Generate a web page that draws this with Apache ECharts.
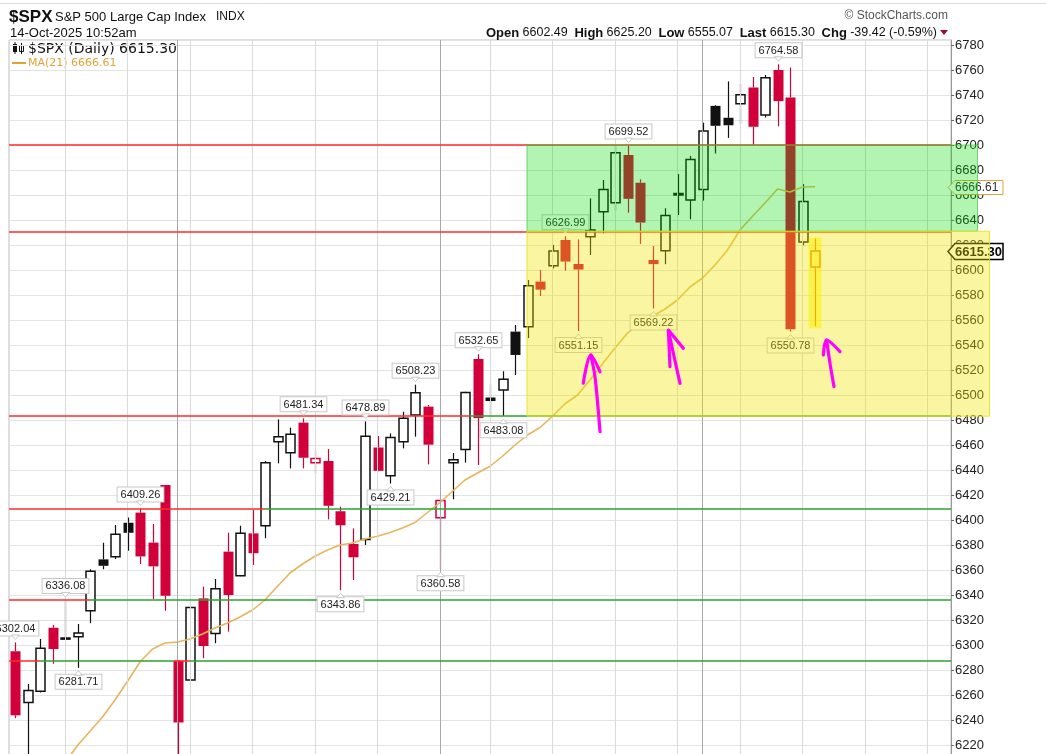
<!DOCTYPE html>
<html><head><meta charset="utf-8">
<script src="https://cdn.jsdelivr.net/npm/echarts@6/dist/echarts.min.js"></script>
<style>html,body{margin:0;padding:0;background:#fff;}#c{width:1046px;height:754px;}</style>
</head><body><div id="c"></div>
<script>
// ---------- DATA ----------
const dates = ['2025-07-15','2025-07-16','2025-07-17','2025-07-18','2025-07-21','2025-07-22','2025-07-23','2025-07-24','2025-07-25','2025-07-28','2025-07-29','2025-07-30','2025-07-31',
'2025-08-01','2025-08-04','2025-08-05','2025-08-06','2025-08-07','2025-08-08','2025-08-11','2025-08-12','2025-08-13','2025-08-14','2025-08-15','2025-08-18','2025-08-19','2025-08-20','2025-08-21','2025-08-22','2025-08-25','2025-08-26','2025-08-27','2025-08-28','2025-08-29',
'2025-09-02','2025-09-03','2025-09-04','2025-09-05','2025-09-08','2025-09-09','2025-09-10','2025-09-11','2025-09-12','2025-09-15','2025-09-16','2025-09-17','2025-09-18','2025-09-19','2025-09-22','2025-09-23','2025-09-24','2025-09-25','2025-09-26','2025-09-29','2025-09-30',
'2025-10-01','2025-10-02','2025-10-03','2025-10-06','2025-10-07','2025-10-08','2025-10-09','2025-10-10','2025-10-13','2025-10-14'];
const futureDates = ['2025-10-15','2025-10-16','2025-10-17','2025-10-20','2025-10-21','2025-10-22','2025-10-23','2025-10-24','2025-10-27','2025-10-28'];
const opens  = [6295,6254,6263,6313.8,6304.7,6306.7,6327.4,6368.5,6370.6,6397.8,6405.9,6381.9,6428,
6287.4,6272,6337.3,6309.3,6374.7,6355.4,6389.3,6395.5,6462.7,6453.8,6477.9,6445.9,6447.2,6407,6380.8,6384.5,6458,6435.5,6462.7,6484,6490.7,
6401.8,6445.9,6456.5,6528.8,6498,6504,6550.7,6554.6,6590.7,6603.5,6624,6604.8,6626.7,6646.7,6653.8,6692,6669.8,6608,6615.5,6660,6656,
6664.5,6731.3,6721.8,6733,6746,6724,6760,6738,6622.4,6602.49];
const highs  = [6302.04,6268.8,6304.8,6316,6336.08,6316.8,6360.6,6381.8,6396,6402,6409.26,6396.8,6428,
6288,6330.7,6346.7,6352.8,6389.9,6395.4,6408,6447.2,6480.5,6473.8,6481.34,6456,6456.8,6410.7,6393.3,6478.89,6467.2,6469.3,6486.6,6508.23,6492,
6416,6453.6,6502.6,6532.65,6508.5,6519,6556,6592,6600,6620,6626.99,6624.5,6657.3,6672,6699.2,6699.52,6672.5,6619.2,6649.4,6676.8,6691.2,
6717.8,6731.9,6750.9,6749,6754.4,6756,6764.58,6762,6668.6,6625.2];
const lows   = [6241.5,6201.6,6262,6285,6303.8,6281.71,6317.5,6360.6,6368.8,6375.4,6364.8,6336.7,6327.4,
6212.69,6271.7,6289.4,6301.4,6310.7,6355,6364,6385.4,6445.3,6441.3,6441.3,6437.3,6400.5,6343.86,6352,6380,6439,6429.21,6457.3,6466.7,6444.5,
6360.58,6416.6,6445.9,6444,6482,6483.08,6516,6545.5,6579.2,6601.3,6599.5,6551.15,6612,6629.3,6647.4,6645.8,6620.8,6569.22,6604.6,6644,6640.6,
6655.5,6693.2,6705.7,6717,6700,6722,6715,6550.78,6619.8,6555.07];
const closes = [6243.76,6263.7,6297.36,6296.79,6305.6,6309.62,6358.91,6363.35,6388.64,6389.77,6370.86,6362.9,6339.39,
6238.01,6329.94,6299.19,6345.06,6340,6389.45,6373.45,6445.76,6466.58,6468.54,6449.8,6449.15,6411.37,6395.78,6370.17,6466.91,6439.32,6465.94,6481.4,6501.86,6460.26,
6415.54,6448.26,6502.08,6481.5,6495.15,6512.61,6532.04,6587.47,6584.29,6615.28,6606.76,6600.35,6631.96,6664.36,6693.75,6656.92,6637.97,6604.72,6643.7,6661.21,6688.46,
6711.2,6715.35,6715.79,6740.28,6714.59,6753.72,6735.11,6552.51,6654.72,6615.3];
const ma21 = [null,null,null,null,6206,6219.6,6231,6242.4,6256,6271,6286.4,6296.8,6301.6,
6302.4,6304.8,6308.8,6313.6,6317.6,6322.4,6328,6336,6347,6357.6,6364.8,6371,6376,6380,6381.6,6384.8,6387,6390,6393.6,6398,6406,
6414,6423,6432,6437.6,6443,6451,6460,6468,6474,6483,6493,6500,6512,6525,6537.6,6549.6,6557.6,6563,6568.8,6576,6586.4,
6593.6,6604,6616,6632,6643,6653.6,6664.8,6662.4,6666.4,6666.61];
const highLabelIdx = [0,4,10,23,28,32,37,44,49,61];
const lowLabelIdx  = [5,26,30,34,39,45,51,62];
const levelVals = [6700, 6631, 6483.08, 6409.26, 6336.08, 6287.3];
const X_MIN = -0.48, X_MAX = 74.88;
const redSegs   = [[0,X_MIN,X_MAX],[1,X_MIN,X_MAX],[2,X_MIN,36.4],[3,X_MIN,20],[4,X_MIN,6],[5,X_MIN,2],[5,12.7,14]];
const greenSegs = [[2,36.4,X_MAX],[3,20,X_MAX],[4,6,X_MAX],[5,2,12.7],[5,14,X_MAX]];
// zones: [x0, x1, low, high]
const zones = [[40.96, 77.0, 6631, 6700],[40.96, 77.96, 6483.08, 6631]];
const highlight = [[64, 6553.4, 6626.2]];
const arrows = [
  [[46.8,6470.6],[46.4,6514.6],[46.06,6532]],
  [[45.46,6509.4],[46.06,6532],[46.8,6518.6]],
  [[53.2,6509.3],[52.67,6533.3],[52.27,6552]],
  [[52.4,6522.7],[52.27,6552],[53.47,6537.3]],
  [[65.52,6506.7],[65.2,6525.3],[64.93,6544]],
  [[64.67,6532],[64.93,6544],[66,6534.7]]
];

// ---------- BUILD ----------
const RED = '#d2003a', LINE_RED = '#ff2a2a', LINE_GREEN = '#2aa52a';
const allDates = dates.concat(futureDates);
const N = dates.length;
const wd = d => new Date(d + 'T12:00:00Z').getUTCDay();
const weekStarts = [], monthStarts = [];
for (let i = 1; i < allDates.length; i++) {
  if (allDates[i].slice(5,7) !== allDates[i-1].slice(5,7)) monthStarts.push(i);
  else if (wd(allDates[i]) < wd(allDates[i-1])) weekStarts.push(i);
}
const candleData = dates.map((d,i)=>[i, opens[i], closes[i], lows[i], highs[i], i>0?closes[i-1]:opens[i]]);
const maData = ma21.map((v,i)=> v==null ? null : [i, v]).filter(Boolean);
const lastClose = closes[N-1], prevClose = closes[N-2], lastMA = ma21[N-1];
const chg = lastClose - prevClose, chgPct = chg / prevClose * 100;

function renderCandle(params, api){
  const i=api.value(0), o=api.value(1), c=api.value(2), l=api.value(3), h=api.value(4), pc=api.value(5);
  const pO=api.coord([i,o]), pC=api.coord([i,c]), pL=api.coord([i,l]), pH=api.coord([i,h]);
  const cx=Math.round(pO[0]);
  const col = c < pc ? RED : '#111';
  const top=Math.min(pO[1],pC[1]), bot=Math.max(pO[1],pC[1]);
  const ch=[];
  ch.push({type:'line',shape:{x1:cx+0.5,y1:pH[1],x2:cx+0.5,y2:top},style:{stroke:col,lineWidth:1.2}});
  ch.push({type:'line',shape:{x1:cx+0.5,y1:bot,x2:cx+0.5,y2:pL[1]},style:{stroke:col,lineWidth:1.2}});
  if (c >= o) ch.push({type:'rect',shape:{x:cx-4,y:top,width:9,height:Math.max(bot-top,1)},style:{fill:'#fff',stroke:col,lineWidth:1.5}});
  else ch.push({type:'rect',shape:{x:cx-4.5,y:top,width:10,height:Math.max(bot-top,2)},style:{fill:col}});
  return {type:'group',children:ch};
}
const labelData = highLabelIdx.map(i=>[i, highs[i], 1]).concat(lowLabelIdx.map(i=>[i, lows[i], -1]));
function renderLabel(params, api){
  const i=api.value(0), v=api.value(1), dir=api.value(2);
  const p=api.coord([i,v]); const x=Math.round(p[0])+0.5;
  const txt = v.toFixed(2);
  const ch=[];
  if (dir>0){
    const b = p[1]-7;
    ch.push({type:'text',x:x,y:b,style:{text:txt,font:'11px Arial',fill:'#222',textAlign:'center',textVerticalAlign:'bottom',backgroundColor:'#fff',borderColor:'#c8c8c8',borderWidth:1,padding:[2,3,1,3]}});
    ch.push({type:'polygon',shape:{points:[[x-4,b-0.5],[x+4,b-0.5],[x,b+4]]},style:{fill:'#fff',stroke:'#c8c8c8',lineWidth:1}});
  } else {
    const t = p[1]+7;
    ch.push({type:'text',x:x,y:t,style:{text:txt,font:'11px Arial',fill:'#222',textAlign:'center',textVerticalAlign:'top',backgroundColor:'#fff',borderColor:'#c8c8c8',borderWidth:1,padding:[2,3,1,3]}});
    ch.push({type:'polygon',shape:{points:[[x-4,t+0.5],[x+4,t+0.5],[x,t-4]]},style:{fill:'#fff',stroke:'#c8c8c8',lineWidth:1}});
  }
  return {type:'group',children:ch};
}
const tagData = [[X_MAX, lastMA],[X_MAX, lastClose]];
function renderTag(params, api){
  const p=api.coord([api.value(0), api.value(1)]);
  const x=p[0]-3, y=Math.round(p[1])+0.5;
  const ma = params.dataIndex===0;
  const h = ma?7:8, w = 55;
  return {type:'group',children:[
    {type:'polygon',shape:{points:[[x,y],[x+7,y-h],[x+w,y-h],[x+w,y+h],[x+7,y+h]]},style:{fill:'#fff',stroke:ma?'#e2a23a':'#000',lineWidth:ma?1:1.5}},
    {type:'text',x:x+7,y:y+0.5,style:{text:api.value(1).toFixed(2),font:ma?'12px Arial':'bold 13px Arial',fill:ma?'#333':'#000',textAlign:'left',textVerticalAlign:'middle'}}
  ]};
}
const ZONE_STYLE = [
  {fill:'rgba(0,221,0,0.30)', stroke:'rgba(60,200,60,0.7)'},
  {fill:'rgba(240,228,0,0.37)', stroke:'rgba(235,225,40,0.9)'}
];
function renderZone(params, api){
  const a=api.coord([api.value(0), api.value(3)]), b=api.coord([api.value(1), api.value(2)]);
  const s=ZONE_STYLE[params.dataIndex];
  return {type:'rect',shape:{x:a[0],y:a[1],width:b[0]-a[0],height:b[1]-a[1]},style:{fill:s.fill,stroke:s.stroke,lineWidth:1}};
}
function renderHighlight(params, api){
  const i=api.value(0);
  const a=api.coord([i-0.5, api.value(2)]), b=api.coord([i+0.5, api.value(1)]);
  return {type:'rect',shape:{x:a[0],y:a[1],width:b[0]-a[0],height:b[1]-a[1]},style:{fill:'rgba(255,240,0,0.55)'}};
}
const seg = (arr,color)=>arr.map(s=>[{coord:[s[1],levelVals[s[0]]],lineStyle:{color:color,width:1.5,type:'solid'}},{coord:[s[2],levelVals[s[0]]]}]);
const vlineData = weekStarts.map(i=>({xAxis:i,lineStyle:{color:'#dadada',width:1,type:'solid'}}))
  .concat(monthStarts.map(i=>({xAxis:i,lineStyle:{color:'#a8a8a8',width:1,type:'solid'}})));

const series = [
  {type:'line',data:[],z:1,silent:true,markLine:{silent:true,symbol:['none','none'],label:{show:false},data:vlineData}},
  {type:'line',data:[],z:2,silent:true,markLine:{silent:true,symbol:['none','none'],label:{show:false},data:seg(redSegs,LINE_RED).concat(seg(greenSegs,LINE_GREEN))}},
  {type:'custom',z:3,renderItem:renderCandle,data:candleData,encode:{x:0,y:[1,2,3,4]}},
  {type:'line',z:4,data:maData,showSymbol:false,symbol:'none',lineStyle:{color:'#e6b55c',width:1.6},silent:true},
  {type:'custom',z:5,clip:false,renderItem:renderLabel,data:labelData,encode:{x:0,y:1}},
  {type:'custom',z:5,clip:false,renderItem:renderTag,data:tagData,encode:{x:0,y:1}},
  {type:'custom',z:7,clip:false,renderItem:renderZone,data:zones,encode:{x:[0,1],y:[2,3]}},
  {type:'custom',z:8,clip:false,renderItem:renderHighlight,data:highlight,encode:{x:0,y:[1,2]}}
].concat(arrows.map(a=>({type:'line',z:9,data:a,showSymbol:false,symbol:'none',smooth:0.3,clip:false,lineStyle:{color:'#ff00ff',width:3.2,cap:'round'},silent:true})));

const chart = echarts.init(document.getElementById('c'), null, {renderer:'canvas'});
chart.setOption({
  animation:false,
  backgroundColor:'#fff',
  grid:{left:9,top:40,width:942,height:730,show:true,borderColor:'#bdbdbd',borderWidth:1,outerBoundsMode:'none',containLabel:false},
  xAxis:{type:'value',min:X_MIN,max:X_MAX,show:false},
  yAxis:{type:'value',position:'right',min:6200,max:6784,interval:20,
    axisLine:{show:true,onZero:false,lineStyle:{color:'#999'}},
    axisTick:{show:true,length:3,lineStyle:{color:'#666'}},
    axisLabel:{color:'#222',fontSize:13,fontFamily:'Arial',margin:4,showMaxLabel:false,formatter:v=>String(v)},
    splitLine:{show:true,lineStyle:{color:'#e3e3e3'}}},
  graphic:[
    {type:'line',shape:{x1:0,y1:3.5,x2:1046,y2:3.5},style:{stroke:'#dcdcdc',lineWidth:1}},
    {type:'text',x:9,y:17,style:{text:'$SPX',font:'bold 17px Arial',fill:'#111',textVerticalAlign:'middle'}},
    {type:'text',x:55,y:17,style:{text:'S&P 500 Large Cap Index',font:'13px Arial',fill:'#111',textVerticalAlign:'middle'}},
    {type:'text',x:216,y:17,style:{text:'INDX',font:'12px Arial',fill:'#111',textVerticalAlign:'middle'}},
    {type:'text',x:10,y:33,style:{text:'14-Oct-2025 10:52am',font:'13px Arial',fill:'#111',textVerticalAlign:'middle'}},
    {type:'text',x:948,y:16,style:{text:'© StockCharts.com',font:'12px Arial',fill:'#555',textAlign:'right',textVerticalAlign:'middle'}},
    {type:'text',x:937,y:33,style:{
      text:'{b|Open} {n|'+opens[N-1].toFixed(2)+'}  {b|High} {n|'+highs[N-1].toFixed(2)+'}  {b|Low} {n|'+lows[N-1].toFixed(2)+'}  {b|Last} {n|'+lastClose.toFixed(2)+'}  {b|Chg} {n|'+chg.toFixed(2)+' ('+chgPct.toFixed(2)+'%)}',
      rich:{b:{font:'bold 13px Arial',fill:'#111'},n:{font:'12.5px Arial',fill:'#111'}},
      textAlign:'right',textVerticalAlign:'middle'}},
    {type:'polygon',shape:{points:[[940,30],[948,30],[944,35]]},style:{fill:'#9b0a2c'}},
    {type:'rect',shape:{x:10,y:41,width:168,height:28},style:{fill:'#fff'}},
    {type:'rect',shape:{x:13,y:44,width:4,height:8},style:{fill:'#111'}},
    {type:'line',shape:{x1:15,y1:42,x2:15,y2:54},style:{stroke:'#111',lineWidth:1}},
    {type:'rect',shape:{x:19.5,y:45.5,width:4,height:6},style:{fill:'#fff',stroke:'#111',lineWidth:1}},
    {type:'line',shape:{x1:21.5,y1:43,x2:21.5,y2:54},style:{stroke:'#111',lineWidth:1}},
    {type:'text',x:28,y:49,style:{text:'$SPX (Daily) '+lastClose.toFixed(2),font:'14px "DejaVu Sans"',fill:'#111',textVerticalAlign:'middle'}},
    {type:'line',shape:{x1:12,y1:63,x2:26,y2:63},style:{stroke:'#e2a23a',lineWidth:2}},
    {type:'text',x:28,y:63,style:{text:'MA(21) '+lastMA.toFixed(2),font:'11px "DejaVu Sans"',fill:'#e2a23a',textVerticalAlign:'middle'}}
  ],
  series:series
});
</script></body></html>
